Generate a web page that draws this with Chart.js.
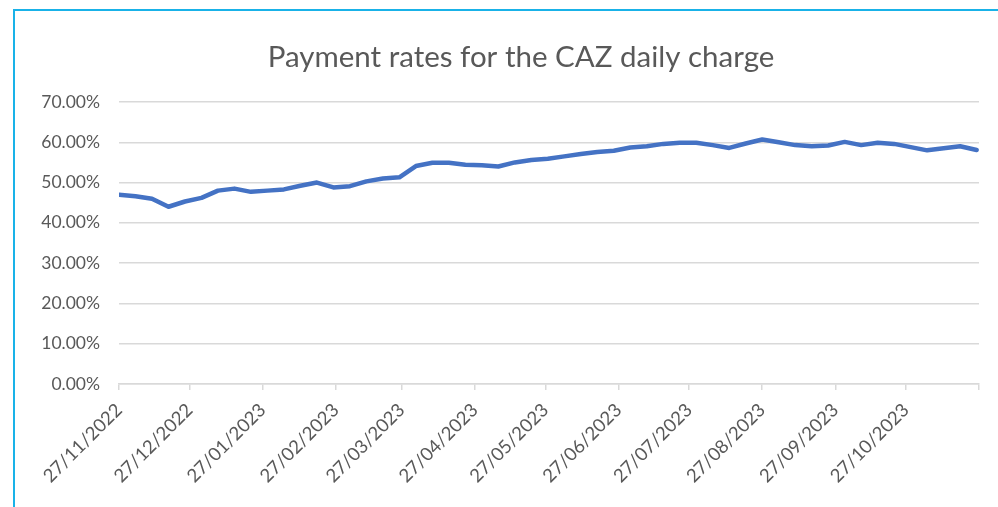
<!DOCTYPE html>
<html>
<head>
<meta charset="utf-8">
<title>Payment rates for the CAZ daily charge</title>
<script src="https://cdn.jsdelivr.net/npm/chart.js@4.4.1/dist/chart.umd.min.js"></script>
<style>
    html, body { margin: 0; padding: 0; background: #ffffff; }
    #chartBox { position: relative; width: 998px; height: 507px; }
</style>
</head>
<body>
<div id="chartBox"><canvas id="cazChart" width="998" height="507"></canvas></div>
<script>
// Weekly reporting dates (week starting)
const weekDates = [
    '27/11/2022', '04/12/2022', '11/12/2022', '18/12/2022', '25/12/2022',
    '01/01/2023', '08/01/2023', '15/01/2023', '22/01/2023', '29/01/2023',
    '05/02/2023', '12/02/2023', '19/02/2023', '26/02/2023', '05/03/2023',
    '12/03/2023', '19/03/2023', '26/03/2023', '02/04/2023', '09/04/2023',
    '16/04/2023', '23/04/2023', '30/04/2023', '07/05/2023', '14/05/2023',
    '21/05/2023', '28/05/2023', '04/06/2023', '11/06/2023', '18/06/2023',
    '25/06/2023', '02/07/2023', '09/07/2023', '16/07/2023', '23/07/2023',
    '30/07/2023', '06/08/2023', '13/08/2023', '20/08/2023', '27/08/2023',
    '03/09/2023', '10/09/2023', '17/09/2023', '24/09/2023', '01/10/2023',
    '08/10/2023', '15/10/2023', '22/10/2023', '29/10/2023', '05/11/2023',
    '12/11/2023', '19/11/2023', '26/11/2023'
];

// Payment rate (%) for each week
const paymentRates = [
    47.0, 46.6, 46.0, 44.0, 45.3,
    46.2, 48.0, 48.5, 47.7, 48.0,
    48.3, 49.2, 50.0, 48.8, 49.1,
    50.3, 51.0, 51.3, 54.1, 54.9,
    54.9, 54.4, 54.3, 54.0, 55.0,
    55.6, 55.9, 56.5, 57.1, 57.6,
    57.9, 58.7, 59.0, 59.6, 59.9,
    59.9, 59.3, 58.6, 59.7, 60.7,
    60.0, 59.3, 59.0, 59.2, 60.1,
    59.3, 59.9, 59.6, 58.8, 58.0,
    58.5, 59.0, 58.1
];

// Monthly tick labels on the date axis
const tickLabels = [
    '27/11/2022', '27/12/2022', '27/01/2023', '27/02/2023', '27/03/2023',
    '27/04/2023', '27/05/2023', '27/06/2023', '27/07/2023', '27/08/2023',
    '27/09/2023', '27/10/2023'
];
const axisEnd = '27/11/2023';

const chartTitle = 'Payment rates for the CAZ daily charge';

const yMin = 0;
const yMax = 70;
const yStep = 10;

// dd/mm/yyyy -> days since the first reporting date
function dayOffset(str) {
    const p = str.split('/');
    const t = Date.UTC(+p[2], +p[1] - 1, +p[0]);
    const s = weekDates[0].split('/');
    const t0 = Date.UTC(+s[2], +s[1] - 1, +s[0]);
    return Math.round((t - t0) / 86400000);
}

const points = weekDates.map((d, i) => ({ x: dayOffset(d), y: paymentRates[i] }));
const tickValues = tickLabels.concat([axisEnd]).map(dayOffset);

const grey = '#595959';
const gridGrey = '#d9d9d9';
const fontFamily = 'Lato, "Open Sans", sans-serif';

// White background, blue frame and the title (centred like the Excel chart)
const framePlugin = {
    id: 'frame',
    beforeDraw(chart) {
        const ctx = chart.ctx;
        ctx.save();
        ctx.fillStyle = '#ffffff';
        ctx.fillRect(0, 0, chart.width, chart.height);
        ctx.strokeStyle = '#19b2e8';
        ctx.lineWidth = 2;
        ctx.beginPath();
        ctx.moveTo(14, chart.height);
        ctx.lineTo(14, 10);
        ctx.lineTo(chart.width, 10);
        ctx.stroke();
        ctx.restore();
    },
    afterDraw(chart) {
        const ctx = chart.ctx;
        ctx.save();
        ctx.fillStyle = grey;
        ctx.font = '29.5px ' + fontFamily;
        ctx.textAlign = 'center';
        ctx.textBaseline = 'middle';
        ctx.fillText(chartTitle, 521, 57);
        ctx.restore();
    }
};

const ctx = document.getElementById('cazChart').getContext('2d');
new Chart(ctx, {
    type: 'line',
    data: {
        datasets: [{
            label: 'Payment rate',
            data: points,
            borderColor: '#4472c4',
            borderWidth: 4.5,
            pointRadius: 0,
            tension: 0,
            fill: false,
            borderJoinStyle: 'round',
            borderCapStyle: 'round'
        }]
    },
    options: {
        responsive: false,
        animation: false,
        devicePixelRatio: 1,
        layout: {
            padding: { left: 0, right: 19, top: 102, bottom: 0 }
        },
        plugins: {
            legend: { display: false },
            tooltip: { enabled: false },
            title: { display: false }
        },
        scales: {
            x: {
                type: 'linear',
                min: tickValues[0],
                max: tickValues[tickValues.length - 1],
                afterBuildTicks: function(scale) {
                    scale.ticks = tickValues.map(v => ({ value: v }));
                },
                afterFit: function(scale) {
                    scale.height = 123;
                    scale.paddingRight = 0;
                    scale.paddingLeft = 0;
                },
                ticks: {
                    autoSkip: false,
                    minRotation: 45,
                    maxRotation: 45,
                    padding: 9,
                    color: grey,
                    font: { family: fontFamily, size: 18.5 },
                    callback: function(value, index) {
                        return index < tickLabels.length ? tickLabels[index] : '';
                    }
                },
                grid: {
                    drawOnChartArea: false,
                    drawTicks: true,
                    tickLength: 6,
                    color: gridGrey,
                    lineWidth: 1.5
                },
                border: { display: true, color: gridGrey, width: 1.5 }
            },
            y: {
                min: yMin,
                max: yMax,
                afterFit: function(scale) {
                    scale.width = 119;
                    scale.paddingTop = 0;
                },
                ticks: {
                    stepSize: yStep,
                    padding: 19,
                    color: grey,
                    font: { family: fontFamily, size: 17.5 },
                    callback: function(value) {
                        return value.toFixed(2) + '%';
                    }
                },
                grid: {
                    color: gridGrey,
                    lineWidth: 1.5,
                    drawTicks: false
                },
                border: { display: false }
            }
        }
    },
    plugins: [framePlugin]
});
</script>
</body>
</html>
